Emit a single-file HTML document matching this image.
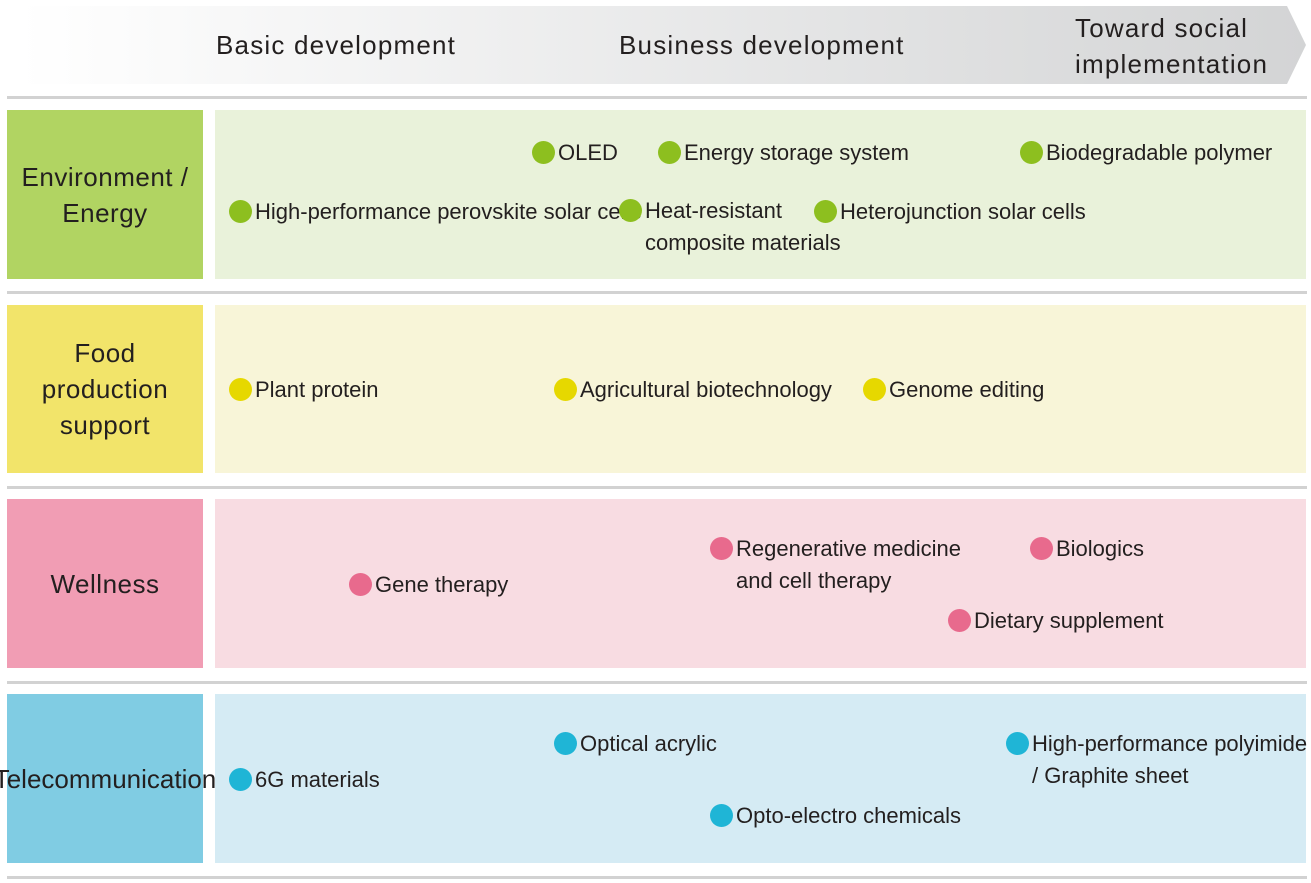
<!DOCTYPE html>
<html><head><meta charset="utf-8">
<style>
*{margin:0;padding:0;box-sizing:border-box}
body{width:1311px;height:883px;background:#fff;position:relative;overflow:hidden;font-family:"Liberation Sans Narrow","Liberation Sans",sans-serif;color:#231f1f}
.abs{position:absolute}
.sep{position:absolute;left:7px;width:1300px;height:3px;background:#d2d2d2}
.lab{position:absolute;left:7px;width:196px;display:flex;align-items:center;justify-content:center;text-align:center;font-size:26px;line-height:36px;letter-spacing:0.5px}
.cont{position:absolute;left:215px;width:1091px}
.item{position:absolute;display:flex;align-items:flex-start;font-size:22px;line-height:32px;white-space:nowrap}
.dot{width:23px;height:23px;border-radius:50%;margin-top:4px;margin-right:3px;flex:none}
.hd{position:absolute;font-size:26px;letter-spacing:1.2px;line-height:36px}
</style></head><body>
<svg class="abs" style="left:0;top:0" width="1311" height="90">
<defs><linearGradient id="g" x1="0" x2="1"><stop offset="0" stop-color="#ffffff"/><stop offset="1" stop-color="#d3d4d5"/></linearGradient></defs>
<polygon points="20,6 1287,6 1306,45 1287,84 20,84" fill="url(#g)"/>
</svg>
<div class="hd" style="left:216px;top:27px">Basic development</div>
<div class="hd" style="left:619px;top:27px">Business development</div>
<div class="hd" style="left:1075px;top:10px">Toward social<br>implementation</div>

<div class="sep" style="top:96px"></div>
<div class="sep" style="top:291px"></div>
<div class="sep" style="top:486px"></div>
<div class="sep" style="top:681px"></div>
<div class="sep" style="top:876px"></div>

<div class="lab" style="top:110px;height:169px;background:#b1d462">Environment /<br>Energy</div>
<div class="cont" style="top:110px;height:169px;background:#e9f2da"></div>
<div class="lab" style="top:305px;height:168px;background:#f2e46a">Food<br>production<br>support</div>
<div class="cont" style="top:305px;height:168px;background:#f8f5d8"></div>
<div class="lab" style="top:499px;height:169px;background:#f19db4">Wellness</div>
<div class="cont" style="top:499px;height:169px;background:#f8dce2"></div>
<div class="lab" style="top:694px;height:169px;background:#80cce3;letter-spacing:0">Telecommunication</div>
<div class="cont" style="top:694px;height:169px;background:#d5ebf4"></div>

<div class="item" style="left:532px;top:137px"><span class="dot" style="background:#8dbf1f"></span>OLED</div>
<div class="item" style="left:658px;top:137px"><span class="dot" style="background:#8dbf1f"></span>Energy storage system</div>
<div class="item" style="left:1020px;top:137px"><span class="dot" style="background:#8dbf1f"></span>Biodegradable polymer</div>
<div class="item" style="left:229px;top:196px"><span class="dot" style="background:#8dbf1f"></span>High-performance perovskite solar cells</div>
<div class="item" style="left:619px;top:195px"><span class="dot" style="background:#8dbf1f"></span>Heat-resistant<br>composite materials</div>
<div class="item" style="left:814px;top:196px"><span class="dot" style="background:#8dbf1f"></span>Heterojunction solar cells</div>

<div class="item" style="left:229px;top:374px"><span class="dot" style="background:#e6d800"></span>Plant protein</div>
<div class="item" style="left:554px;top:374px"><span class="dot" style="background:#e6d800"></span>Agricultural biotechnology</div>
<div class="item" style="left:863px;top:374px"><span class="dot" style="background:#e6d800"></span>Genome editing</div>

<div class="item" style="left:349px;top:569px"><span class="dot" style="background:#e86a8d"></span>Gene therapy</div>
<div class="item" style="left:710px;top:533px"><span class="dot" style="background:#e86a8d"></span>Regenerative medicine<br>and cell therapy</div>
<div class="item" style="left:1030px;top:533px"><span class="dot" style="background:#e86a8d"></span>Biologics</div>
<div class="item" style="left:948px;top:605px"><span class="dot" style="background:#e86a8d"></span>Dietary supplement</div>

<div class="item" style="left:229px;top:764px"><span class="dot" style="background:#1fb5d6"></span>6G materials</div>
<div class="item" style="left:554px;top:728px"><span class="dot" style="background:#1fb5d6"></span>Optical acrylic</div>
<div class="item" style="left:1006px;top:728px"><span class="dot" style="background:#1fb5d6"></span>High-performance polyimide<br>/ Graphite sheet</div>
<div class="item" style="left:710px;top:800px"><span class="dot" style="background:#1fb5d6"></span>Opto-electro chemicals</div>
</body></html>
